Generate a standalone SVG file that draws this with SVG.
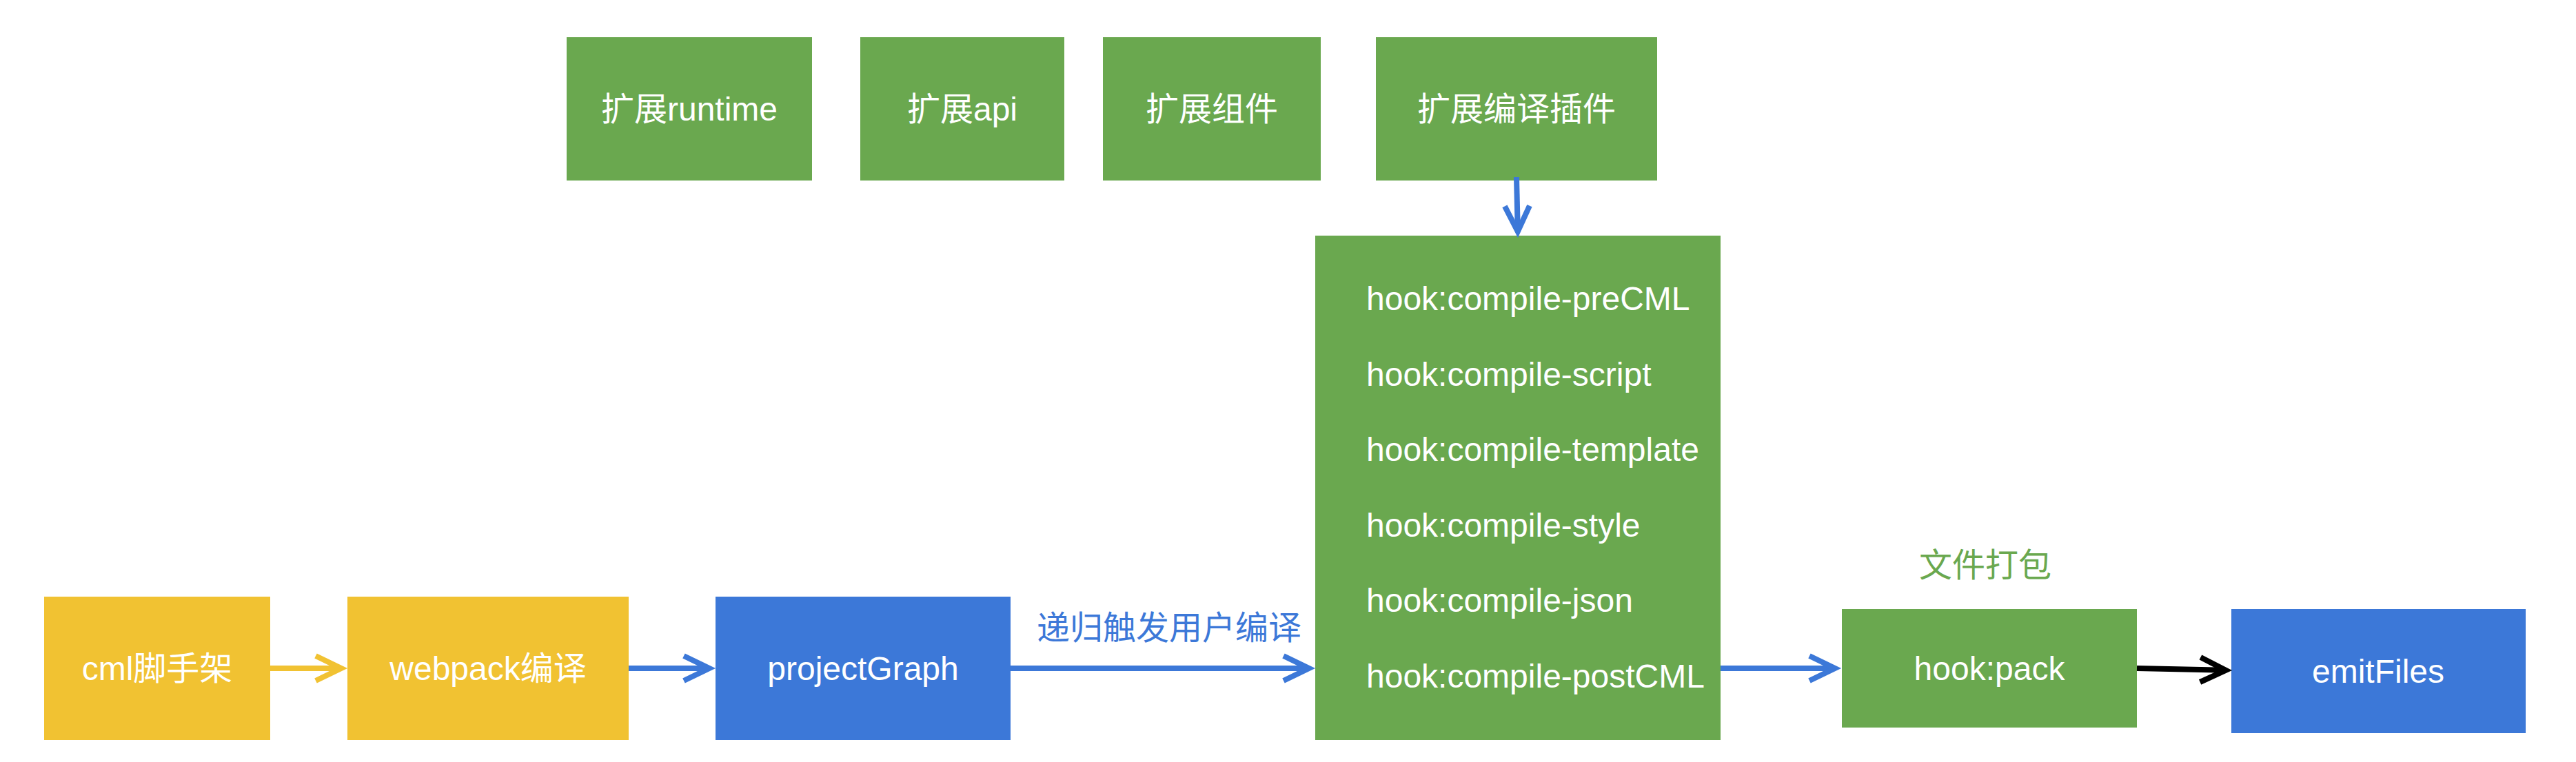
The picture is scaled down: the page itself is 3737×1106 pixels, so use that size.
<svg xmlns="http://www.w3.org/2000/svg" width="3737" height="1106" viewBox="0 0 3737 1106">
<style>
.t{font-family:"Liberation Sans","Noto Sans CJK SC",sans-serif;font-size:48px;fill:#ffffff}
.c{text-anchor:middle}
.g{fill:#6aa84f}
.y{fill:#f1c232}
.b{fill:#3c78d8}
.ln{fill:none;stroke-width:8}
</style>
<defs>
<marker id="ay" markerUnits="userSpaceOnUse" markerWidth="60" markerHeight="60" viewBox="-45 -30 60 60" refX="0" refY="0" orient="auto" overflow="visible"><path d="M-36,-18 L1,0 L-36,18" fill="none" stroke="#f1c232" stroke-width="8"/></marker>
<marker id="ab" markerUnits="userSpaceOnUse" markerWidth="60" markerHeight="60" viewBox="-45 -30 60 60" refX="0" refY="0" orient="auto" overflow="visible"><path d="M-36,-18 L1,0 L-36,18" fill="none" stroke="#3c78d8" stroke-width="8"/></marker>
<marker id="ak" markerUnits="userSpaceOnUse" markerWidth="60" markerHeight="60" viewBox="-45 -30 60 60" refX="0" refY="0" orient="auto" overflow="visible"><path d="M-36,-18 L1,0 L-36,18" fill="none" stroke="#000000" stroke-width="8"/></marker>
</defs>
<rect width="3737" height="1106" fill="#ffffff"/>
<g id="ext-runtime"><rect class="g" x="822" y="54" width="356" height="208"/><text class="t c" x="1000" y="175">扩展runtime</text></g>
<g id="ext-api"><rect class="g" x="1248" y="54" width="296" height="208"/><text class="t c" x="1396" y="175">扩展api</text></g>
<g id="ext-component"><rect class="g" x="1600" y="54" width="316" height="208"/><text class="t c" x="1758" y="175">扩展组件</text></g>
<g id="ext-plugin"><rect class="g" x="1996" y="54" width="408" height="208"/><text class="t c" x="2200" y="175">扩展编译插件</text></g>
<g id="cml"><rect class="y" x="64" y="866" width="328" height="208"/><text class="t c" x="228" y="987">cml脚手架</text></g>
<g id="webpack"><rect class="y" x="504" y="866" width="408" height="208"/><text class="t c" x="708" y="987">webpack编译</text></g>
<g id="projectGraph"><rect class="b" x="1038" y="866" width="428" height="208"/><text class="t c" x="1252" y="987">projectGraph</text></g>
<g id="compile-hooks"><rect class="g" x="1908" y="342" width="588" height="732"/>
<text class="t" x="1982" y="450">hook:compile-preCML</text>
<text class="t" x="1982" y="560">hook:compile-script</text>
<text class="t" x="1982" y="669">hook:compile-template</text>
<text class="t" x="1982" y="779">hook:compile-style</text>
<text class="t" x="1982" y="888">hook:compile-json</text>
<text class="t" x="1982" y="998">hook:compile-postCML</text>
</g>
<g id="hook-pack"><rect class="g" x="2672" y="884" width="428" height="172"/><text class="t c" x="2886" y="987">hook:pack</text></g>
<g id="emitFiles"><rect class="b" x="3237" y="884" width="427" height="180"/><text class="t c" x="3450" y="991">emitFiles</text></g>
<g id="connectors">
<line class="ln" x1="392" y1="970" x2="494" y2="970" stroke="#f1c232" marker-end="url(#ay)"/>
<line class="ln" x1="912" y1="970" x2="1028" y2="970" stroke="#3c78d8" marker-end="url(#ab)"/>
<line class="ln" x1="1466" y1="970" x2="1898" y2="970" stroke="#3c78d8" marker-end="url(#ab)"/>
<line class="ln" x1="2496" y1="970" x2="2661" y2="970" stroke="#3c78d8" marker-end="url(#ab)"/>
<line class="ln" x1="3100" y1="970" x2="3228" y2="972.8" stroke="#000000" marker-end="url(#ak)"/>
<line class="ln" x1="2200" y1="257" x2="2201.8" y2="335" stroke="#3c78d8" stroke-width="7" marker-end="url(#ab)"/>
<text class="t c" x="1696" y="928" style="fill:#3c78d8">递归触发用户编译</text>
<text class="t c" x="2880" y="837" style="fill:#6aa84f">文件打包</text>
</g>
</svg>
